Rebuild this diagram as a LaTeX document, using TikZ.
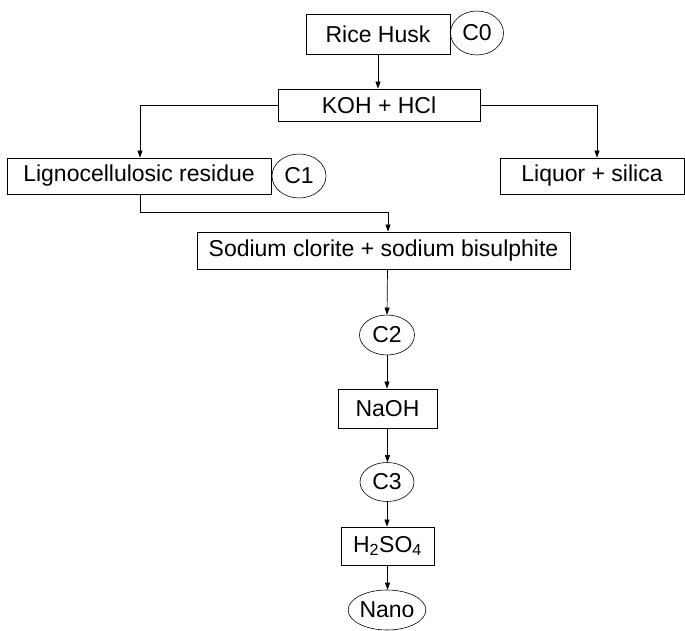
\documentclass[tikz,border=0pt]{standalone}
\usepackage{fontspec}
\setmainfont{Liberation Sans}
\usepackage{tikz}
\usetikzlibrary{shapes.geometric,arrows.meta,positioning,calc}

\begin{document}
\begin{tikzpicture}[x=1pt,y=-1pt,
      bx/.style={draw, inner sep=0pt, font=\fontsize{23}{27}\selectfont,
                 align=center, line width=0.8pt},
      ov/.style={draw, ellipse, inner sep=0pt, font=\fontsize{23}{27}\selectfont,
                 line width=0.6pt},
      arr/.style={-{Triangle[length=7pt,width=5pt]}, line width=0.7pt}
    ]
      \useasboundingbox (0,0) rectangle (685,631);
      % Raw material
      \node[bx, minimum width=144pt, minimum height=40pt] (rice) at (378,34) {Rice Husk};
      \node[ov, minimum width=53pt, minimum height=44pt] (c0) at (477,33) {C0};
      % Alkali / acid treatment
      \node[bx, minimum width=202pt, minimum height=32pt] (koh) at (379,105) {KOH + HCl};
      % Products
      \node[bx, minimum width=264pt, minimum height=36pt] (ligno) at (139,176) {Lignocellulosic residue};
      \node[ov, minimum width=54pt, minimum height=44pt] (c1) at (299,176) {C1};
      \node[bx, minimum width=184pt, minimum height=36pt] (liquor) at (592,176) {Liquor + silica};
      % Bleaching
      \node[bx, minimum width=373pt, minimum height=37pt] (sodium) at (383.5,250.5)
        {Sodium clorite + sodium bisulphite};
      \node[ov, minimum width=55pt, minimum height=40pt] (c2) at (387,335) {C2};
      % Alkali
      \node[bx, minimum width=99pt, minimum height=39pt] (naoh) at (387.5,408.5) {NaOH};
      \node[ov, minimum width=54pt, minimum height=39pt] (c3) at (387,482) {C3};
      % Acid hydrolysis
      \node[bx, minimum width=93pt, minimum height=38pt] (acid) at (387.5,546)
        {H\textsubscript{2}SO\textsubscript{4}};
      \node[ov, minimum width=67pt, minimum height=40pt] (nano) at (387,610) {Nano};
      % Arrows
      \draw[arr] (rice.south) -- (rice.south |- koh.north);
      \draw[arr] (koh.west) -| ([xshift=1pt]ligno.north);
      \draw[arr] (koh.east) -| ([xshift=5pt]liquor.north);
      \draw[arr] ([xshift=1pt]ligno.south) -- ++(0,18) -| ([xshift=4.5pt]sodium.north);
      \draw[arr] ([xshift=4pt]sodium.south) -- (c2.north);
      \draw[arr] (c2.south) -- (c2.south |- naoh.north);
      \draw[arr] (naoh.south) -- (naoh.south |- c3.north);
      \draw[arr] (c3.south) -- (c3.south |- acid.north);
      \draw[arr] (acid.south) -- (acid.south |- nano.north);
    \end{tikzpicture}
\end{document}
